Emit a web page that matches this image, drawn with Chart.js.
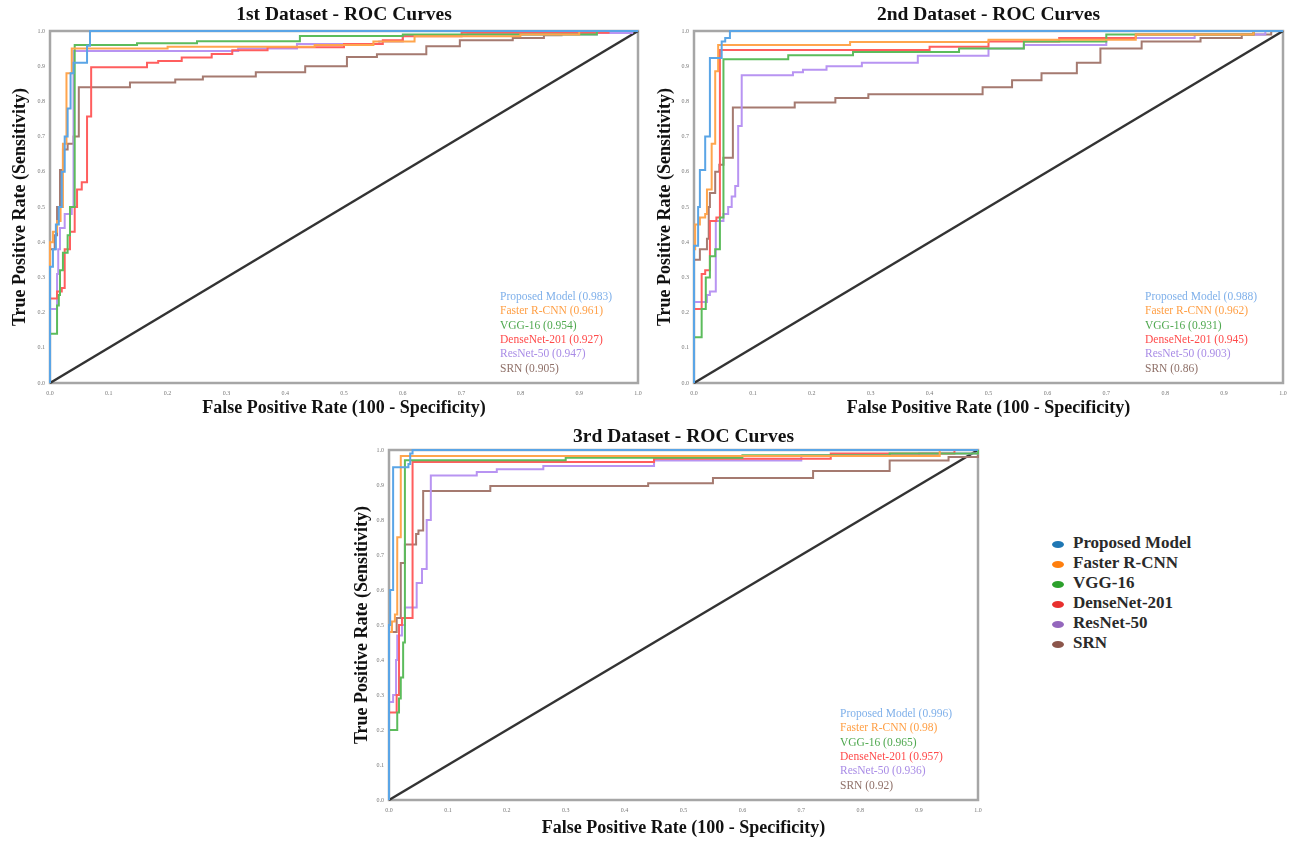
<!DOCTYPE html>
<html>
<head>
<meta charset="utf-8">
<script src="https://cdn.jsdelivr.net/npm/chart.js@4.4.0/dist/chart.umd.min.js"></script>
<style>
  body { margin: 0; background: #fff; width: 1294px; height: 841px; position: relative; overflow: hidden;
         font-family: "Liberation Serif", "Times New Roman", serif; }
  .box { position: absolute; }
  #legend { position: absolute; left: 1052px; top: 533px; }
  #legend div { height: 20px; line-height: 20px; font-size: 17px; font-weight: bold; color: #2a2a2a; white-space: nowrap; }
  #legend span { display: inline-block; width: 12px; height: 7px; border-radius: 50%; margin-right: 9px; vertical-align: middle; }
</style>
</head>
<body>
<div class="box" style="left:0;top:0;width:650px;height:420px"><canvas id="roc1"></canvas></div>
<div class="box" style="left:650px;top:0;width:644px;height:420px"><canvas id="roc2"></canvas></div>
<div class="box" style="left:340px;top:420px;width:650px;height:421px"><canvas id="roc3"></canvas></div>
<div id="legend"></div>

<script>
// models and AUC values
const models = ['Proposed Model', 'Faster R-CNN', 'VGG-16', 'DenseNet-201', 'ResNet-50', 'SRN'];
const auc1 = [0.983, 0.961, 0.954, 0.927, 0.947, 0.905];
const auc2 = [0.988, 0.962, 0.931, 0.945, 0.903, 0.86];
const auc3 = [0.996, 0.98, 0.965, 0.957, 0.936, 0.92];

// ROC points [fpr, tpr]
const proposed1 = [[0,0],[0,0.33],[0.005,0.38],[0.01,0.45],[0.015,0.5],[0.02,0.6],[0.025,0.7],[0.03,0.78],[0.035,0.88],[0.04,0.91],[0.063,0.958],[0.068,1],[1,1]];
const faster1 = [[0,0],[0,0.4],[0.005,0.43],[0.012,0.46],[0.018,0.5],[0.022,0.68],[0.028,0.88],[0.037,0.95],[0.2,0.955],[0.45,0.96],[0.55,0.97],[0.62,0.985],[0.8,0.99],[0.9,1],[1,1]];
const vgg1 = [[0,0],[0,0.14],[0.012,0.22],[0.015,0.25],[0.017,0.32],[0.022,0.37],[0.03,0.42],[0.034,0.5],[0.042,0.96],[0.148,0.965],[0.25,0.971],[0.425,0.986],[0.6,0.99],[0.93,1],[1,1]];
const dense1 = [[0,0],[0,0.24],[0.012,0.26],[0.02,0.27],[0.025,0.38],[0.034,0.43],[0.042,0.5],[0.046,0.55],[0.054,0.57],[0.063,0.757],[0.07,0.897],[0.165,0.91],[0.184,0.915],[0.224,0.925],[0.275,0.935],[0.31,0.945],[0.37,0.954],[0.5,0.963],[0.566,0.974],[0.6,0.985],[0.7,0.995],[0.95,1],[1,1]];
const resnet1 = [[0,0],[0,0.21],[0.012,0.31],[0.014,0.38],[0.017,0.44],[0.025,0.48],[0.037,0.5],[0.04,0.943],[0.32,0.95],[0.42,0.963],[0.56,0.97],[0.6,0.986],[0.71,0.99],[0.93,0.994],[0.99,1],[1,1]];
const srn1 = [[0,0],[0,0.38],[0.008,0.42],[0.012,0.5],[0.017,0.605],[0.022,0.663],[0.03,0.68],[0.04,0.7],[0.049,0.84],[0.136,0.854],[0.213,0.862],[0.26,0.871],[0.35,0.883],[0.434,0.9],[0.505,0.926],[0.556,0.934],[0.64,0.957],[0.697,0.974],[0.787,0.98],[0.84,0.988],[0.87,0.995],[0.95,1],[1,1]];

const proposed2 = [[0,0],[0,0.39],[0.007,0.5],[0.01,0.605],[0.019,0.7],[0.027,0.923],[0.047,0.97],[0.053,0.98],[0.061,1],[1,1]];
const faster2 = [[0,0],[0,0.38],[0.002,0.45],[0.01,0.47],[0.019,0.48],[0.022,0.55],[0.03,0.68],[0.036,0.886],[0.041,0.96],[0.265,0.969],[0.5,0.975],[0.75,0.99],[0.95,1],[1,1]];
const vgg2 = [[0,0],[0,0.13],[0.013,0.21],[0.02,0.3],[0.027,0.36],[0.036,0.38],[0.044,0.47],[0.05,0.92],[0.16,0.931],[0.27,0.94],[0.45,0.95],[0.56,0.97],[0.7,0.99],[0.95,1],[1,1]];
const dense2 = [[0,0],[0,0.21],[0.013,0.31],[0.019,0.32],[0.027,0.46],[0.038,0.47],[0.044,0.946],[0.4,0.955],[0.5,0.97],[0.62,0.98],[0.75,0.99],[0.95,1],[1,1]];
const resnet2 = [[0,0],[0,0.23],[0.022,0.25],[0.027,0.26],[0.037,0.46],[0.05,0.48],[0.058,0.5],[0.064,0.53],[0.07,0.56],[0.075,0.73],[0.081,0.874],[0.168,0.883],[0.185,0.89],[0.225,0.9],[0.285,0.91],[0.38,0.93],[0.5,0.95],[0.56,0.96],[0.7,0.98],[0.85,0.99],[0.97,1],[1,1]];
const srn2 = [[0,0],[0,0.35],[0.01,0.38],[0.022,0.41],[0.025,0.5],[0.027,0.54],[0.036,0.6],[0.043,0.62],[0.05,0.64],[0.066,0.783],[0.171,0.797],[0.24,0.81],[0.296,0.82],[0.49,0.84],[0.54,0.86],[0.59,0.88],[0.65,0.91],[0.69,0.95],[0.76,0.97],[0.86,0.98],[0.93,0.99],[0.98,1],[1,1]];

const proposed3 = [[0,0],[0,0.5],[0.002,0.6],[0.007,0.951],[0.033,0.96],[0.036,0.99],[0.04,1],[1,1]];
const faster3 = [[0,0],[0,0.48],[0.005,0.51],[0.01,0.53],[0.014,0.751],[0.02,0.983],[0.935,1],[1,1]];
const vgg3 = [[0,0],[0,0.2],[0.014,0.25],[0.017,0.29],[0.02,0.35],[0.024,0.45],[0.027,0.971],[0.3,0.978],[0.6,0.985],[0.85,0.99],[1,1]];
const dense3 = [[0,0],[0,0.25],[0.013,0.3],[0.017,0.5],[0.022,0.52],[0.04,0.966],[0.45,0.975],[0.75,0.99],[0.96,1],[1,1]];
const resnet3 = [[0,0],[0,0.28],[0.007,0.3],[0.012,0.4],[0.014,0.47],[0.022,0.5],[0.027,0.55],[0.047,0.62],[0.056,0.66],[0.064,0.8],[0.071,0.927],[0.149,0.937],[0.183,0.945],[0.262,0.954],[0.45,0.97],[0.7,0.985],[0.9,0.99],[1,1]];
const srn3 = [[0,0],[0,0.48],[0.013,0.52],[0.02,0.677],[0.027,0.73],[0.046,0.76],[0.05,0.77],[0.058,0.883],[0.172,0.897],[0.44,0.905],[0.55,0.92],[0.72,0.94],[0.85,0.97],[0.95,0.98],[1,1]];

const chance = [[0,0],[1,1]];

// Colors
const lineColors = ['#5aa5e6', '#ffa54d', '#5cbc5c', '#ff5e5e', '#b894f2', '#a57a70'];
const textColors = ['#7fb0ea', '#ff9f45', '#4fa84f', '#ff4a4a', '#a98ce6', '#8f7068'];
const dotColors = ['#1f77b4', '#ff7f0e', '#2ca02c', '#e8302e', '#9467bd', '#8c564b'];
const serif = '"Liberation Serif", "Times New Roman", serif';

// frame around the plot
const framePlugin = {
    id: 'frame',
    beforeDatasetsDraw(chart) {
        const a = chart.chartArea, ctx = chart.ctx;
        ctx.save();
        ctx.strokeStyle = '#a6a6a6';
        ctx.lineWidth = 2.5;
        ctx.strokeRect(a.left, a.top, a.right - a.left, a.bottom - a.top);
        ctx.restore();
    }
};

// AUC labels inside the plot
const aucPlugin = {
    id: 'aucText',
    afterDatasetsDraw(chart, args, opts) {
        const a = chart.chartArea, ctx = chart.ctx;
        ctx.save();
        ctx.font = '11.5px ' + serif;
        ctx.textBaseline = 'middle';
        ctx.textAlign = 'left';
        models.forEach((m, i) => {
            ctx.fillStyle = textColors[i];
            ctx.fillText(m + ' (' + opts.aucs[i] + ')', a.right - opts.dx, a.bottom - opts.dy + i * 14.3);
        });
        ctx.restore();
    }
};

function drawRoc(id, title, curves, aucs, geo) {
    const datasets = curves.map((c, i) => ({
        label: models[i],
        data: c.map(p => ({ x: p[0], y: p[1] })),
        borderColor: lineColors[i],
        borderWidth: 2,
        stepped: 'before',
        pointRadius: 0,
        fill: false,
        clip: 4
    }));
    datasets.push({
        label: 'chance',
        data: chance.map(p => ({ x: p[0], y: p[1] })),
        borderColor: '#333',
        borderWidth: 2.5,
        pointRadius: 0,
        clip: 4
    });

    const tickFont = { family: serif, size: 6 };
    const titleFont = { family: serif, size: 18, weight: 'bold', lineHeight: 1 };

    new Chart(document.getElementById(id), {
        type: 'line',
        data: { datasets: datasets },
        plugins: [framePlugin, aucPlugin],
        options: {
            responsive: true,
            maintainAspectRatio: false,
            animation: false,
            layout: { padding: { left: 0, right: geo.right, top: 0, bottom: 0 } },
            plugins: {
                legend: { display: false },
                tooltip: { enabled: false },
                title: {
                    display: true,
                    fullSize: false,
                    text: title,
                    color: '#111',
                    font: { family: serif, size: 19.5, weight: 'bold', lineHeight: 1 },
                    padding: { top: geo.titleTop, bottom: geo.titleBottom }
                },
                aucText: { aucs: aucs, dx: 138, dy: 86 }
            },
            scales: {
                x: {
                    type: 'linear', min: 0, max: 1,
                    grid: { display: false, drawTicks: false },
                    border: { display: false },
                    ticks: { stepSize: 0.1, padding: 7, font: tickFont, color: '#777',
                             maxRotation: 0, autoSkip: false, callback: v => v.toFixed(1) },
                    title: { display: true, text: 'False Positive Rate (100 - Specificity)', color: '#111',
                             font: titleFont, padding: { top: 0, bottom: geo.xTitlePad } },
                    afterFit: s => { s.height = geo.xHeight; }
                },
                y: {
                    type: 'linear', min: 0, max: 1,
                    grid: { display: false, drawTicks: false },
                    border: { display: false },
                    ticks: { stepSize: 0.1, padding: 5, font: tickFont, color: '#777',
                             autoSkip: false, callback: v => v.toFixed(1) },
                    title: { display: true, text: 'True Positive Rate (Sensitivity)', color: '#111',
                             font: titleFont, padding: { top: geo.yTitlePad, bottom: 0 } },
                    afterFit: s => { s.width = geo.yWidth; }
                }
            }
        }
    });
}

drawRoc('roc1', '1st Dataset - ROC Curves',
    [proposed1, faster1, vgg1, dense1, resnet1, srn1], auc1,
    { right: 12, titleTop: 5.25, titleBottom: 6.25, xHeight: 37, xTitlePad: 3, yWidth: 50, yTitlePad: 11 });

drawRoc('roc2', '2nd Dataset - ROC Curves',
    [proposed2, faster2, vgg2, dense2, resnet2, srn2], auc2,
    { right: 11, titleTop: 5.25, titleBottom: 6.25, xHeight: 37, xTitlePad: 3, yWidth: 44, yTitlePad: 6 });

drawRoc('roc3', '3rd Dataset - ROC Curves',
    [proposed3, faster3, vgg3, dense3, resnet3, srn3], auc3,
    { right: 12, titleTop: 7.25, titleBottom: 3.25, xHeight: 41, xTitlePad: 4, yWidth: 49, yTitlePad: 13 });

// shared legend
const legend = document.getElementById('legend');
models.forEach((m, i) => {
    const row = document.createElement('div');
    row.innerHTML = '<span style="background:' + dotColors[i] + '"></span>' + m;
    legend.appendChild(row);
});
</script>
</body>
</html>
